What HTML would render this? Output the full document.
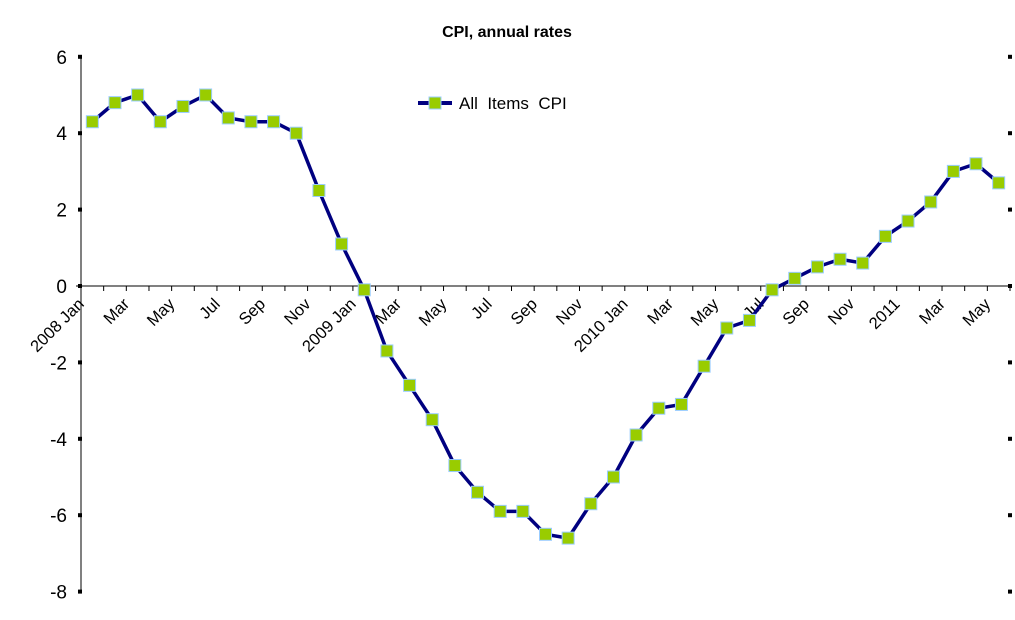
<!DOCTYPE html>
<html><head><meta charset="utf-8"><style>
body{margin:0;background:#fff;}
svg{display:block;font-family:"Liberation Sans",Arial,sans-serif;}
</style></head><body>
<svg id="c" width="1015" height="620">
<text x="507" y="37" text-anchor="middle" font-size="16" font-weight="bold">CPI, annual rates</text>
<g id="axes"></g><g id="plot"></g>
<g>
<line x1="418" y1="103" x2="452" y2="103" stroke="#000080" stroke-width="4"/>
<rect x="429" y="97" width="12" height="12" fill="#99cc00" stroke="#99ccff" stroke-width="1"/>
<text x="459" y="109" font-size="17">All&#160;&#160;Items&#160;&#160;CPI</text>
</g>
</svg>
<script>
const values=[4.3,4.8,5.0,4.3,4.7,5.0,4.4,4.3,4.3,4.0,2.5,1.1,
-0.1,-1.7,-2.6,-3.5,-4.7,-5.4,-5.9,-5.9,-6.5,-6.6,-5.7,-5.0,
-3.9,-3.2,-3.1,-2.1,-1.1,-0.9,-0.1,0.2,0.5,0.7,0.6,1.3,
1.7,2.2,3.0,3.2,2.7];
const xLabels=["2008 Jan","Mar","May","Jul","Sep","Nov","2009 Jan","Mar","May","Jul","Sep","Nov","2010 Jan","Mar","May","Jul","Sep","Nov","2011","Mar","May"];
const yTicks=[6,4,2,0,-2,-4,-6,-8];
const NS="http://www.w3.org/2000/svg";
const x0=81,x1=1010,n=values.length,w=(x1-x0)/n;
const y=v=>286-v*38.2;
const xc=i=>x0+(i+0.5)*w;
const xt=i=>x0+i*w;
const ax=document.getElementById('axes'),pl=document.getElementById('plot');
function mk(p,t,a){const e=document.createElementNS(NS,t);for(const k in a)e.setAttribute(k,a[k]);p.appendChild(e);return e;}
const yl=mk(ax,'line',{x1:x0,y1:y(6),x2:x0,y2:y(-8),stroke:'#000','stroke-width':1});


const xl=mk(ax,'line',{x1:x0-5,y1:y(0),x2:x1,y2:y(0),stroke:'#000','stroke-width':1});


yTicks.forEach(v=>{
 mk(ax,'rect',{x:x0-3,y:y(v)-2,width:4,height:4,fill:'#000'});
 mk(ax,'rect',{x:x1-2,y:y(v)-2,width:4,height:4,fill:'#000'});
 const t=mk(ax,'text',{x:67,y:y(v)+7,'text-anchor':'end','font-size':19});
 t.textContent=v;
 
 
});
for(let i=1;i<=n;i++)mk(ax,'line',{x1:xt(i),y1:y(0),x2:xt(i),y2:y(0)+5,stroke:'#000'});
xLabels.forEach((s,k)=>{
 const tx=xt(2*k)+4,ty=y(0)+19;
 const t=mk(ax,'text',{x:tx,y:ty,'text-anchor':'end','font-size':16.5,transform:`rotate(-45 ${tx} ${ty})`});
 t.textContent=s;
 
 
});
const pts=values.map((v,i)=>xc(i)+','+y(v)).join(' ');
const line=mk(pl,'polyline',{points:pts,fill:'none',stroke:'#000080','stroke-width':3.5,'stroke-linejoin':'round'});


values.forEach((v,i)=>{
 const r=mk(pl,'rect',{x:xc(i)-6,y:y(v)-6,width:12,height:12,fill:'#99cc00',stroke:'#99ccff','stroke-width':1});
 
 
});
</script>
</body></html>
